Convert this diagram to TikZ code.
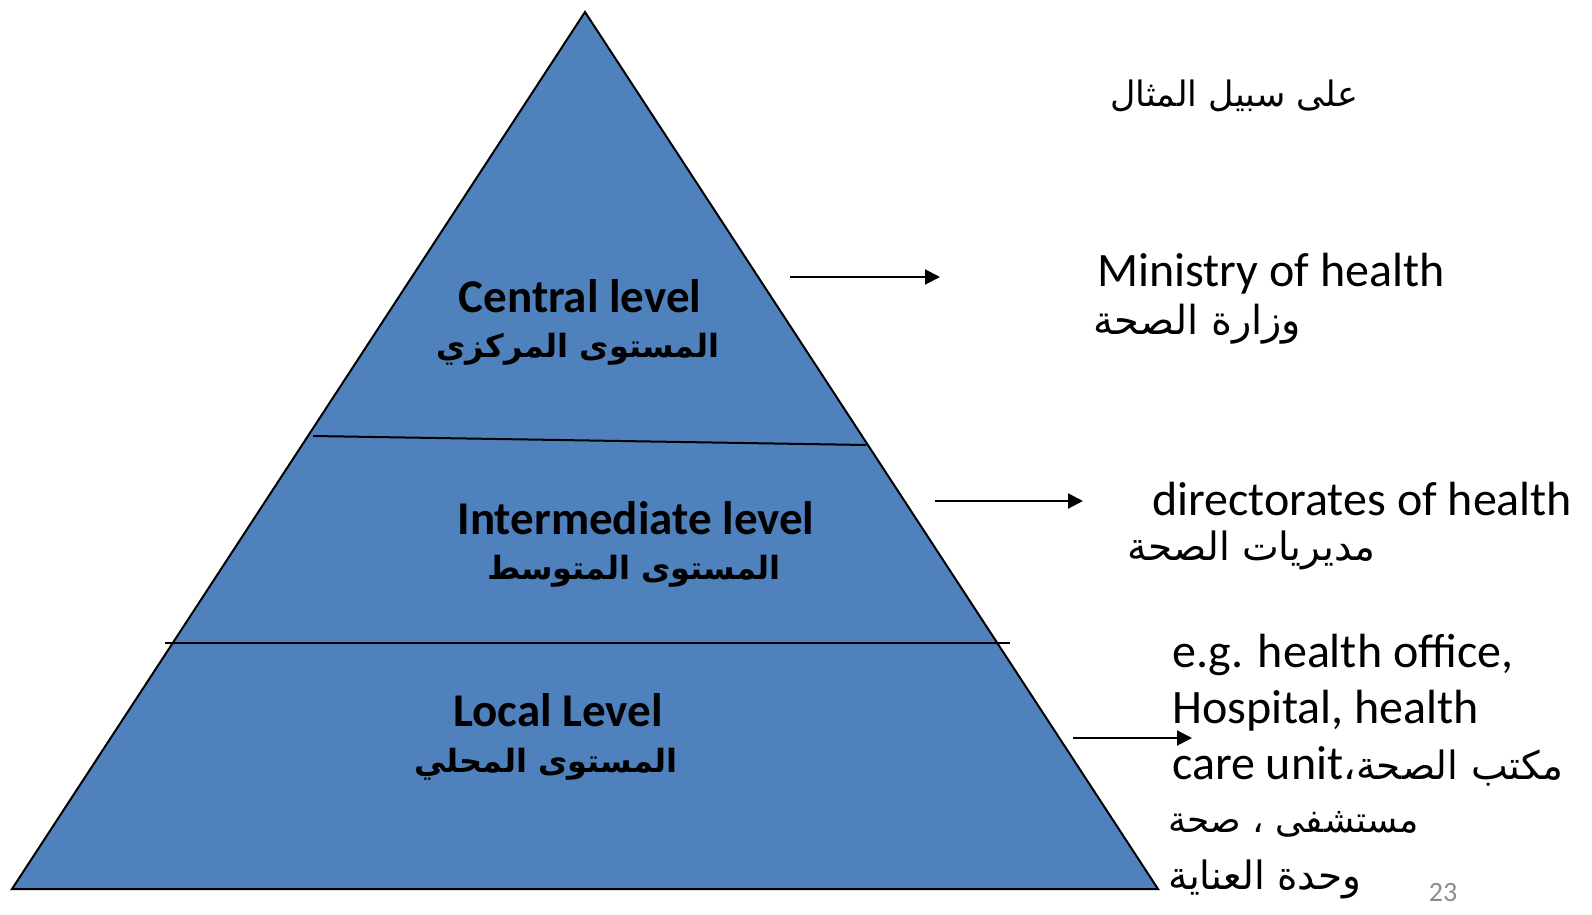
\documentclass[tikz,border=0pt]{standalone}
\usepackage{fontspec}
\setmainfont{Carlito}
\newfontfamily\arabicfont[Script=Arabic]{DejaVu Sans}
\TeXXeTstate=1
\usetikzlibrary{arrows.meta}
\definecolor{pyrblue}{HTML}{4F81BD}
\definecolor{pagegray}{HTML}{8C8C8C}
\begin{document}
\begin{tikzpicture}[x=1pt,y=-1pt,
  lvl/.style={font=\fontsize{47}{50}\selectfont\bfseries, inner sep=0pt},
  lvlar/.style={font=\fontsize{32}{40}\selectfont\arabicfont\bfseries, inner sep=0pt},
  en/.style={font=\fontsize{48}{52}\selectfont, inner sep=0pt, anchor=west},
  ar/.style={font=\fontsize{39}{40}\selectfont\arabicfont, inner sep=0pt, anchor=west},
  link/.style={line width=2pt, -{Triangle[length=15pt,width=15pt]}},
  divider/.style={line width=2pt}]
\useasboundingbox (0,0) rectangle (1592,915);
% pyramid
\coordinate (apex) at (585,12);
\coordinate (bl) at (12,889);
\coordinate (br) at (1158,889);
\draw[fill=pyrblue, line width=2pt, line join=miter] (apex) -- (bl) -- (br) -- cycle;
\coordinate (d1l) at (313,436);
\coordinate (d1r) at (866,445);
\coordinate (d2l) at (165,643);
\coordinate (d2r) at (1010,643);
\draw[divider] (d1l) -- (d1r);
\draw[divider] (d2l) -- (d2r);
% level labels
\node[lvl] (cen) at (580,296) {Central level};
\node[lvlar] (cenar) at (578,349) {\beginR المستوى المركزي\endR};
\node[lvl] (int) at (636,518) {Intermediate level};
\node[lvlar] (intar) at (634,571) {\beginR المستوى المتوسط\endR};
\node[lvl] (loc) at (558,710) {Local Level};
\node[lvlar] (locar) at (546,764) {\beginR المستوى المحلي\endR};
% arrows
\coordinate (a1s) at (790,277);
\coordinate (a1e) at (940,277);
\coordinate (a2s) at (935,501);
\coordinate (a2e) at (1083,501);
\coordinate (a3s) at (1073,738);
\coordinate (a3e) at (1192,738);
\draw[link] (a1s) -- (a1e);
\draw[link] (a2s) -- (a2e);
\draw[link] (a3s) -- (a3e);
% right texts
\node[ar, font=\fontsize{35}{40}\selectfont\arabicfont] (eg) at (1110,96) {\beginR على سبيل المثال\endR};
\node[en] (moh) at (1097,274) {Ministry of health};
\node[ar, font=\fontsize{40}{40}\selectfont\arabicfont] (mohar) at (1093,324) {\beginR وزارة الصحة\endR};
\node[en] (doh) at (1152,499) {directorates of health};
\node[ar] (dohar) at (1127,550) {\beginR مديريات الصحة\endR};
\node[en] (l1) at (1172,655) {e.g. health office,};
\node[en] (l2) at (1172,711) {Hospital, health};
\node[en] (l3) at (1172,766) {care unit{\arabicfont\fontsize{39}{40}\selectfont\beginR مكتب الصحة،\endR}};
\node[ar, font=\fontsize{36}{40}\selectfont\arabicfont] (l4) at (1168,824) {\beginR مستشفى ، صحة\endR};
\node[ar] (l5) at (1168,879) {\beginR وحدة العناية\endR};
\node[font=\fontsize{28}{30}\selectfont, text=pagegray, inner sep=0pt] (pg) at (1443,892) {23};
\end{tikzpicture}
\end{document}
